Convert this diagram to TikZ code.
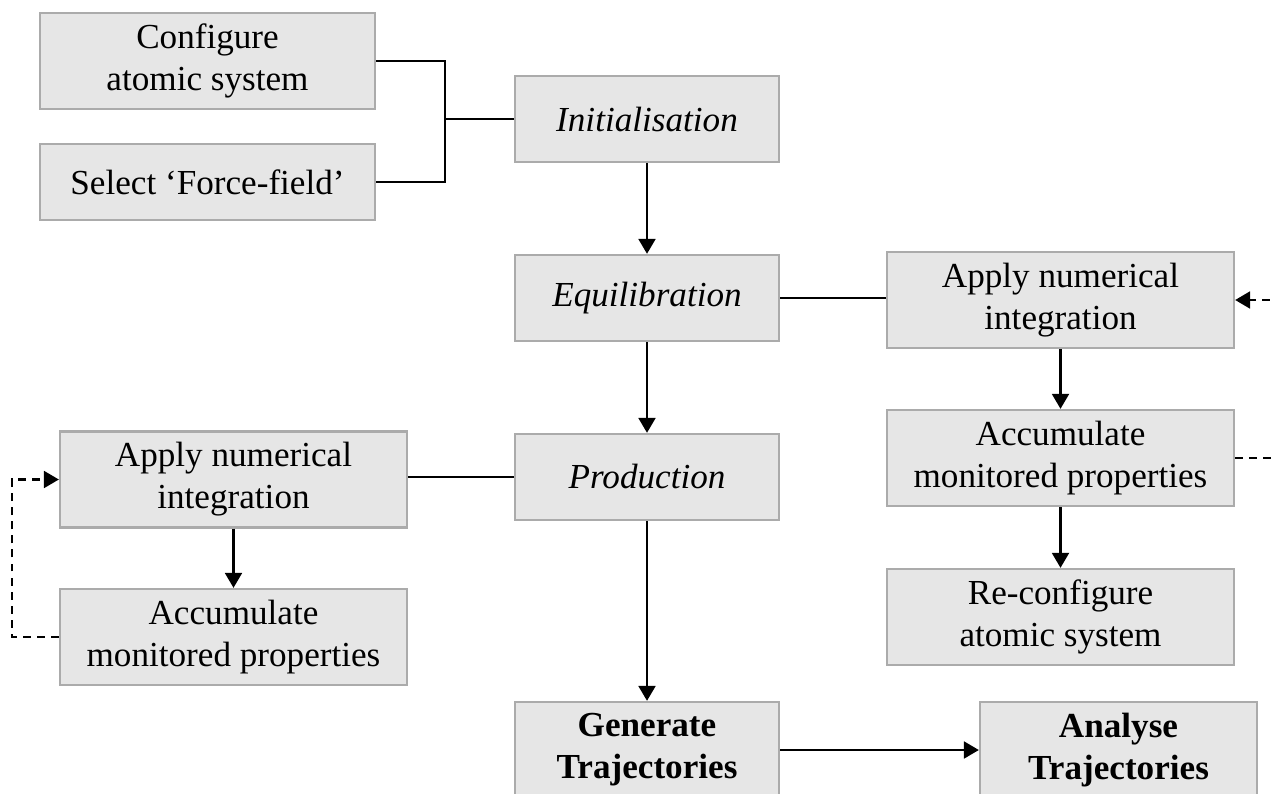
\documentclass[tikz,border=0pt]{standalone}
\usepackage{fontspec}
\setmainfont{Liberation Serif}
\usepackage{tikz}
\definecolor{gray100}{HTML}{E6E6E6}
\definecolor{gray400}{HTML}{ABABAB}
\usetikzlibrary{arrows.meta}
\tikzstyle{caixa}=[rectangle, draw=gray400, fill=gray100, line width=1.3pt, align=center, inner sep=0pt, font=\fontsize{20}{23.8}\selectfont]
\tikzstyle{seta}=[-{Triangle[length=8.5pt,width=9.5pt]}]
\tikzstyle{laco}=[dashed, dash pattern=on 4.5pt off 3.5pt]

\begin{document}
\begin{tikzpicture}[x=0.02cm, y=-0.02cm, line width=1.6pt]
			\useasboundingbox (0,0) rectangle (1271,794);
			\clip (0,0) rectangle (1271,794);
			\node[caixa, minimum width=6.7cm, minimum height=1.92cm] (cfg) at (207.5,61) {Configure\\atomic system};
			\node[caixa, minimum width=6.7cm, minimum height=1.52cm] (ff) at (207.5,182) {Select ‘Force-field’};
			\node[caixa, minimum width=5.28cm, minimum height=1.72cm, font=\fontsize{20}{23.8}\selectfont\itshape] (ini) at (647,119) {Initialisation};
			\node[caixa, minimum width=5.28cm, minimum height=1.72cm, font=\fontsize{20}{23.8}\selectfont\itshape] (eq) at (647,298) {Equilibration};
			\node[caixa, minimum width=5.28cm, minimum height=1.72cm, font=\fontsize{20}{23.8}\selectfont\itshape] (prod) at (647,477) {Production};
			\node[caixa, minimum width=6.94cm, minimum height=1.92cm] (int1) at (1060.5,300) {Apply numerical\\integration};
			\node[caixa, minimum width=6.94cm, minimum height=1.92cm] (acc1) at (1060.5,458) {Accumulate\\monitored properties};
			\node[caixa, minimum width=6.94cm, minimum height=1.92cm] (rec) at (1060.5,617) {Re-configure\\atomic system};
			\node[caixa, minimum width=6.94cm, minimum height=1.92cm] (int2) at (233.5,479.5) {Apply numerical\\integration};
			\node[caixa, minimum width=6.94cm, minimum height=1.92cm] (acc2) at (233.5,637) {Accumulate\\monitored properties};
			\node[caixa, minimum width=5.28cm, minimum height=1.92cm, font=\fontsize{20}{23.8}\selectfont\bfseries] (gen) at (647,750) {Generate\\Trajectories};
			\node[caixa, minimum width=5.54cm, minimum height=1.92cm, font=\fontsize{20}{23.8}\selectfont\bfseries] (ana) at (1118.5,750) {Analyse\\Trajectories};
			\coordinate (brk) at (445,119);
			\coordinate (loop1) at (1300,458);
			\coordinate (loop2) at (12,637);
			\draw (cfg.east) -| (brk) |- (ff.east);
			\draw (brk) -- (ini.west);
			\draw[seta] (ini) -- (eq);
			\draw[seta] (eq) -- (prod);
			\draw[seta] (prod) -- (gen);
			\draw[seta] (gen) -- (ana);
			\draw (eq.east) -- (eq.east -| int1.west);
			\draw[seta] (int1) -- (acc1);
			\draw[seta] (acc1) -- (rec);
			\draw[laco, seta] (acc1.east) -- (loop1) |- (int1.east);
			\draw (prod.west) -- (prod.west -| int2.east);
			\draw[seta] (int2) -- (acc2);
			\draw[laco, seta] (acc2.west) -- (loop2) |- (int2.west);
		\end{tikzpicture}
\end{document}
